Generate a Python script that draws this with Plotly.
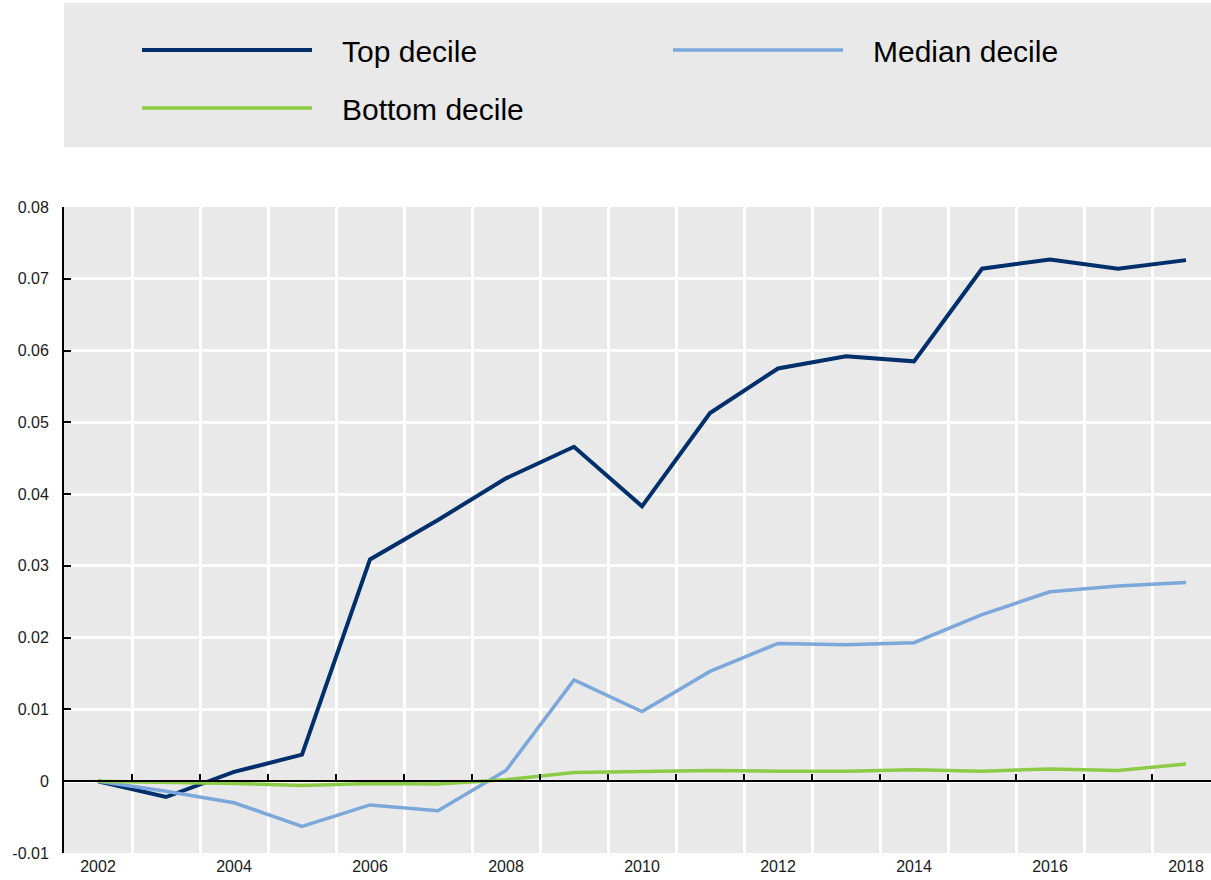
import plotly.graph_objects as go

years = list(range(2002, 2019))
top_decile = [0.0, -0.0022, 0.0013, 0.0037, 0.0309, 0.0364, 0.0422, 0.0466, 0.0383,
              0.0513, 0.0575, 0.0592, 0.0585, 0.0714, 0.0727, 0.0714, 0.0726]
median_decile = [0.0, -0.0014, -0.0030, -0.0063, -0.0033, -0.0041, 0.0015, 0.0141, 0.0097,
                 0.0153, 0.0192, 0.0190, 0.0193, 0.0232, 0.0264, 0.0272, 0.0277]
bottom_decile = [0.0, -0.0001, -0.0003, -0.0006, -0.0003, -0.0004, 0.0002, 0.0012, 0.0013,
                 0.0015, 0.0014, 0.0014, 0.0016, 0.0014, 0.0017, 0.0015, 0.0024]
series_names = ["Top decile", "Median decile", "Bottom decile"]
x_tick_labels = ["2002", "2004", "2006", "2008", "2010", "2012", "2014", "2016", "2018"]
y_ticks = [-0.01, 0.0, 0.01, 0.02, 0.03, 0.04, 0.05, 0.06, 0.07, 0.08]
y_tick_labels = ["-0.01", "0", "0.01", "0.02", "0.03", "0.04", "0.05", "0.06", "0.07", "0.08"]

W, H = 1211, 880
L, T, B, R = 64, 207, 27, 0
pw, ph = W - L - R, H - T - B
px_per_year = 68
x_range = [years[0] - 0.5, years[0] - 0.5 + pw / px_per_year]
boundaries = [y + 0.5 for y in years]

legend_font = dict(family="Liberation Sans, Arial", size=30, color="#000000")
tick_font = dict(family="Liberation Sans, Arial", size=16, color="#1a1a1a")
pad = "\u00a0\u00a0\u00a0"  # gap between legend line and its label

fig = go.Figure()
fig.add_trace(go.Scatter(x=years, y=top_decile, mode="lines", name=pad + series_names[0],
                         line=dict(color="#002F6C", width=4), legend="legend"))
fig.add_trace(go.Scatter(x=years, y=median_decile, mode="lines", name=pad + series_names[1],
                         line=dict(color="#7BA7DA", width=3.5), legend="legend"))
fig.add_trace(go.Scatter(x=years, y=bottom_decile, mode="lines", name=pad + series_names[2],
                         line=dict(color="#8CCB45", width=3.5), legend="legend2"))
# helper trace to materialise the zero-line axis
fig.add_trace(go.Scatter(x=years, y=bottom_decile, mode="lines", xaxis="x2",
                         line=dict(width=0), opacity=0, showlegend=False, hoverinfo="skip"))


def py(screen_y):
    return (H - B - screen_y) / ph


def pxx(screen_x):
    return (screen_x - L) / pw


fig.update_layout(
    width=W, height=H,
    margin=dict(l=L, r=R, t=T, b=B, pad=0),
    paper_bgcolor="white",
    plot_bgcolor="#E9E9E9",
    xaxis=dict(range=x_range, tickvals=years[::2], ticktext=x_tick_labels,
               showgrid=False, zeroline=False, showline=False, ticks="",
               tickfont=tick_font, ticklabelstandoff=2,
               minor=dict(tickvals=boundaries, showgrid=True, gridcolor="white", gridwidth=3, ticks="")),
    xaxis2=dict(range=x_range, overlaying="x", anchor="free", position=1 / 9,
                showgrid=False, zeroline=False, showline=True, linecolor="black", linewidth=2,
                tickvals=boundaries, ticks="inside", ticklen=6, tickwidth=2, tickcolor="black",
                showticklabels=False),
    yaxis=dict(range=[-0.01, 0.08], tickvals=y_ticks, ticktext=y_tick_labels,
               showgrid=True, gridcolor="white", gridwidth=3, zeroline=False,
               showline=True, linecolor="black", linewidth=2,
               ticks="inside", ticklen=7, tickwidth=2, tickcolor="black",
               tickfont=tick_font, ticklabelstandoff=10),
    legend=dict(orientation="h", x=pxx(137), xanchor="left", y=py(50), yanchor="middle",
                bgcolor="rgba(0,0,0,0)", font=legend_font, entrywidth=346, itemwidth=170,
                traceorder="normal"),
    legend2=dict(orientation="h", x=pxx(137), xanchor="left", y=py(108), yanchor="middle",
                 bgcolor="rgba(0,0,0,0)", font=legend_font, itemwidth=170),
    shapes=[dict(type="rect", xref="paper", yref="paper", x0=pxx(64), x1=pxx(1211),
                 y0=py(147), y1=py(3), fillcolor="#E9E9E9", line=dict(width=0), layer="below")],
    showlegend=True,
)

fig.write_html(
    "out.html",
    config={"displayModeBar": False},
    post_script="document.body.style.margin='0';document.body.style.overflow='hidden';",
)
